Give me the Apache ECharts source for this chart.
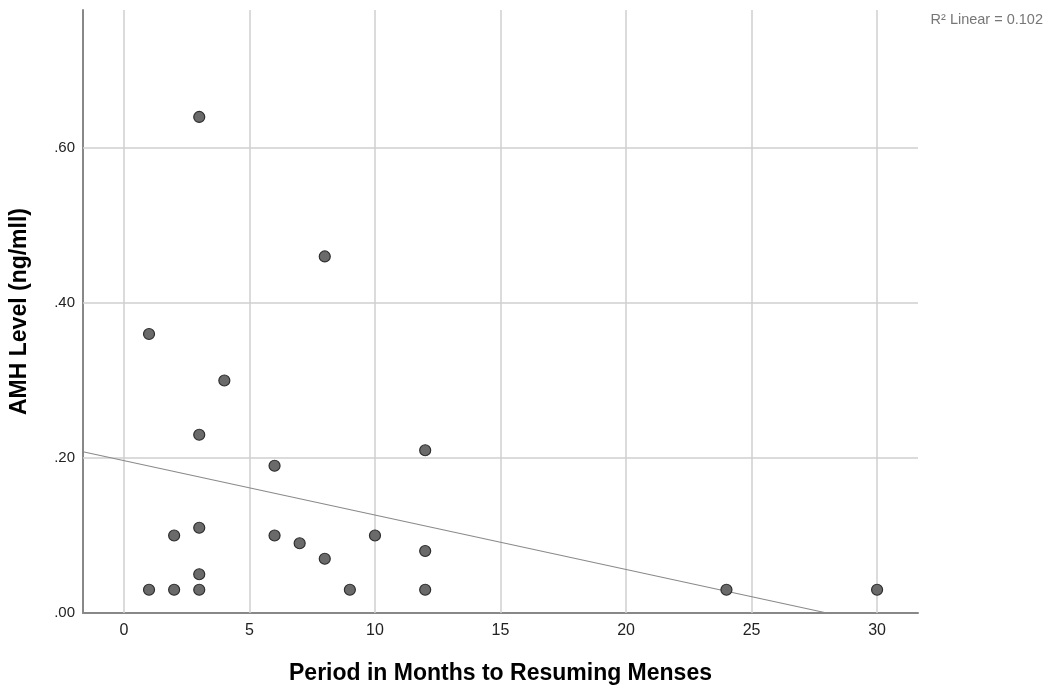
<!DOCTYPE html>
<html>
<head>
<meta charset="utf-8">
<script src="https://cdn.jsdelivr.net/npm/echarts@6/dist/echarts.min.js"></script>
<style>html,body{margin:0;padding:0;background:#fff;}#c{width:1051px;height:690px;}</style>
</head>
<body>
<div id="c"></div>
<script>
// Scatter data: [months, AMH level]
var months = [1, 1, 2, 2, 3, 3, 3, 3, 3, 4, 6, 6, 7, 8, 8, 9, 10, 12, 12, 12, 24, 30];
var amh = [0.03, 0.36, 0.03, 0.10, 0.64, 0.23, 0.11, 0.05, 0.03, 0.30, 0.19, 0.10, 0.09, 0.46, 0.07, 0.03, 0.10, 0.21, 0.08, 0.03, 0.03, 0.03];
// Fit line endpoints
var fitX = [-1.63, 28.0];
var fitY = [0.208, 0.0];
var xTicks = [0, 5, 10, 15, 20, 25, 30];
var yTicks = [0, 0.2, 0.4, 0.6];
var r2Text = 'R\u00B2 Linear = 0.102';

var points = months.map(function (m, i) { return [m, amh[i]]; });
var fit = fitX.map(function (x, i) { return [x, fitY[i]]; });

var chart = echarts.init(document.getElementById('c'));
var font = '"Liberation Sans", Arial, sans-serif';
chart.setOption({
  animation: false,
  grid: { left: 83, right: 133, top: 10, bottom: 77, containLabel: false },
  xAxis: {
    type: 'value', min: -1.63, max: 31.63,
    name: 'Period in Months to Resuming Menses', nameLocation: 'middle', nameGap: 49,
    nameTextStyle: { fontFamily: font, fontSize: 23, fontWeight: 'bold', color: '#000' },
    axisLine: { show: true, onZero: false, lineStyle: { color: '#888', width: 2 } },
    axisTick: { show: false, customValues: xTicks },
    axisLabel: { customValues: xTicks, fontFamily: font, fontSize: 16, color: '#222', margin: 10 },
    splitLine: { show: false }
  },
  yAxis: {
    type: 'value', min: 0, max: 0.778,
    name: 'AMH Level (ng/mll)', nameLocation: 'middle', nameGap: 52,
    nameTextStyle: { fontFamily: font, fontSize: 23, fontWeight: 'bold', color: '#000' },
    axisLine: { show: true, onZero: false, lineStyle: { color: '#888', width: 2 } },
    axisTick: { show: false, customValues: yTicks },
    axisLabel: { customValues: yTicks, fontFamily: font, fontSize: 15, color: '#222', margin: 8,
      formatter: function (v) { return v.toFixed(2).replace(/^0/, ''); } },
    splitLine: { show: false }
  },
  series: [
    {
      type: 'line', data: fit, symbol: 'none', silent: true,
      lineStyle: { color: '#8a8a8a', width: 1.2 }, z: 3,
      markLine: {
        silent: true, symbol: 'none', animation: false, z: 1,
        label: { show: false },
        lineStyle: { color: '#cfcfcf', width: 1.5, type: 'solid' },
        data: xTicks.map(function (t) { return { xAxis: t }; })
          .concat(yTicks.filter(function (t) { return t > 0; }).map(function (t) { return { yAxis: t }; }))
      }
    },
    {
      type: 'scatter', data: points, symbolSize: 11, z: 4,
      itemStyle: { color: '#6a6a6a', borderColor: '#2e2e2e', borderWidth: 1.2, opacity: 1 }
    }
  ],
  graphic: [
    { type: 'text', right: 8, top: 12, style: { text: r2Text, fontFamily: font, fontSize: 14.5, fill: '#777' } }
  ]
});
</script>
</body>
</html>
